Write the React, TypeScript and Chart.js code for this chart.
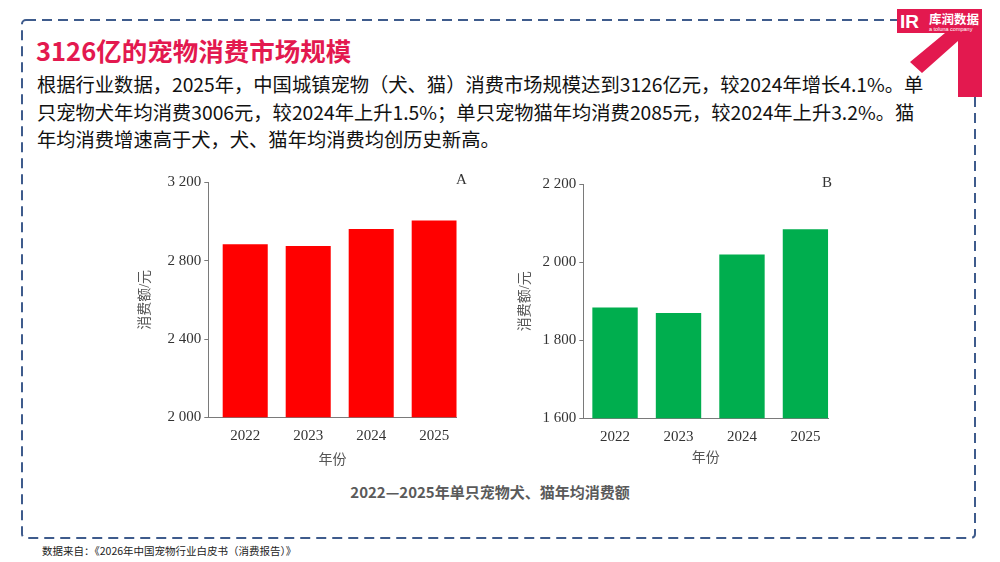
import React, { useEffect, useRef } from "react";
import { Chart, registerables } from "chart.js";

Chart.register(...registerables);

// ---- data ----
const years = [2022, 2023, 2024, 2025];
const dogSpend = [2884, 2875, 2962, 3006];
const catSpend = [1884, 1870, 2020, 2085];
const dogTicks = [2000, 2400, 2800, 3200];
const dogTickLabels = ["2 000", "2 400", "2 800", "3 200"];
const catTicks = [1600, 1800, 2000, 2200];
const catTickLabels = ["1 600", "1 800", "2 000", "2 200"];
const xTitle = "年份";
const yTitle = "消费额/元";

const SERIF = '"Liberation Serif", "Times New Roman", "Noto Sans CJK SC", serif';
const AXIS = "#7a7a7a";

type PanelProps = {
  values: number[];
  ticks: number[];
  tickLabels: string[];
  color: string;
  xMin: number;
  xMax: number;
  left: number;
  top: number;
  yAxisWidth: number;
  xAxisHeight: number;
  padRight: number;
  padTop: number;
  yTitlePad: number;
  xTitlePad: number;
};

function Panel(p: PanelProps) {
  const ref = useRef<HTMLCanvasElement | null>(null);
  useEffect(() => {
    if (!ref.current) return;
    const chart = new Chart(ref.current, {
      type: "bar",
      data: {
        datasets: [
          {
            data: years.map((yr, i) => ({ x: yr, y: p.values[i] })),
            backgroundColor: p.color,
            borderWidth: 0,
            barPercentage: 0.715,
            categoryPercentage: 1,
          },
        ],
      },
      options: {
        responsive: false,
        animation: false,
        layout: { padding: { left: 0, right: p.padRight, top: p.padTop, bottom: 0 } },
        plugins: { legend: { display: false }, tooltip: { enabled: false } },
        scales: {
          x: {
            type: "linear",
            min: p.xMin,
            max: p.xMax,
            offset: false,
            afterBuildTicks: (ax: any) => {
              ax.ticks = years.map((v) => ({ value: v }));
            },
            afterFit: (s: any) => {
              s.height = p.xAxisHeight;
            },
            grid: { display: false, drawTicks: false },
            border: { display: true, color: AXIS, width: 1 },
            ticks: {
              padding: 10,
              maxRotation: 0,
              autoSkip: false,
              color: "#333",
              font: { family: SERIF, size: 15 },
              callback: (v: any) => String(v),
            },
            title: {
              display: true,
              text: xTitle,
              color: "#555",
              font: { family: SERIF, size: 14 },
              padding: { top: 0, bottom: p.xTitlePad },
            },
          },
          y: {
            min: p.ticks[0],
            max: p.ticks[p.ticks.length - 1],
            afterBuildTicks: (ax: any) => {
              ax.ticks = p.ticks.map((v) => ({ value: v }));
            },
            afterFit: (s: any) => {
              s.width = p.yAxisWidth;
            },
            grid: { drawOnChartArea: false, drawTicks: true, tickLength: 4, color: AXIS },
            border: { display: true, color: AXIS, width: 1 },
            ticks: {
              padding: 3,
              color: "#333",
              font: { family: SERIF, size: 15 },
              callback: (v: any) => {
                const i = p.ticks.indexOf(Number(v));
                return i >= 0 ? p.tickLabels[i] : "";
              },
            },
            title: {
              display: true,
              text: yTitle,
              color: "#555",
              font: { family: SERIF, size: 14 },
              padding: { top: p.yTitlePad, bottom: 0 },
            },
          },
        },
      },
    } as any);
    return () => chart.destroy();
  }, []);
  return (
    <canvas
      ref={ref}
      width={350}
      height={320}
      style={{ position: "absolute", left: p.left, top: p.top, width: 350, height: 320 }}
    />
  );
}

export default function App() {
  useEffect(() => {
    document.body.style.margin = "0";
  }, []);
  const crimson = "#e3194f";
  return (
    <div
      style={{
        position: "relative",
        width: 1000,
        height: 562,
        overflow: "hidden",
        background: "#fff",
        fontFamily: '"Noto Sans CJK SC", "Noto Sans", sans-serif',
      }}
    >
      <svg width={1000} height={562} style={{ position: "absolute", left: 0, top: 0 }}>
        <rect
          x={22}
          y={20}
          width={953}
          height={518}
          rx={4}
          fill="none"
          stroke="#3e5b8c"
          strokeWidth={2}
          strokeDasharray="10 6"
        />
      </svg>

      <div
        style={{
          position: "absolute",
          left: 36,
          top: 35,
          fontSize: 25.5,
          lineHeight: "30px",
          fontWeight: 700,
          color: crimson,
          whiteSpace: "nowrap",
        }}
      >
        3126亿的宠物消费市场规模
      </div>

      <div
        style={{
          position: "absolute",
          left: 37,
          top: 71,
          fontSize: 19.3,
          lineHeight: "27.5px",
          color: "#111",
          whiteSpace: "nowrap",
        }}
      >
        <div>根据行业数据，2025年，中国城镇宠物（犬、猫）消费市场规模达到3126亿元，较2024年增长4.1%。单</div>
        <div>只宠物犬年均消费3006元，较2024年上升1.5%；单只宠物猫年均消费2085元，较2024年上升3.2%。猫</div>
        <div>年均消费增速高于犬，犬、猫年均消费均创历史新高。</div>
      </div>

      <Panel
        values={dogSpend}
        ticks={dogTicks}
        tickLabels={dogTickLabels}
        color="#ff0000"
        xMin={2021.414}
        xMax={2025.357}
        left={130}
        top={160}
        yAxisWidth={78.3}
        xAxisHeight={62.7}
        padRight={23.3}
        padTop={22.5}
        yTitlePad={6.6}
        xTitlePad={11.6}
      />
      <Panel
        values={catSpend}
        ticks={catTicks}
        tickLabels={catTickLabels}
        color="#00ae4e"
        xMin={2021.5}
        xMax={2025.36}
        left={500}
        top={160}
        yAxisWidth={83.3}
        xAxisHeight={61.7}
        padRight={21.7}
        padTop={24.3}
        yTitlePad={16.6}
        xTitlePad={13.6}
      />

      <div
        style={{
          position: "absolute",
          left: 456,
          top: 171,
          fontFamily: SERIF,
          fontSize: 15,
          color: "#333",
        }}
      >
        A
      </div>
      <div
        style={{
          position: "absolute",
          left: 822,
          top: 174,
          fontFamily: SERIF,
          fontSize: 15,
          color: "#333",
        }}
      >
        B
      </div>

      <div
        style={{
          position: "absolute",
          left: 0,
          width: 980,
          top: 482,
          textAlign: "center",
          fontSize: 15,
          lineHeight: "20px",
          fontWeight: 700,
          color: "#5a5a5a",
        }}
      >
        2022—2025年单只宠物犬、猫年均消费额
      </div>

      <div
        style={{
          position: "absolute",
          left: 42,
          top: 544,
          fontSize: 10.5,
          lineHeight: "14px",
          color: "#222",
          whiteSpace: "nowrap",
        }}
      >
        数据来自：《2026年中国宠物行业白皮书（消费报告）》
      </div>

      <svg width={1000} height={562} style={{ position: "absolute", left: 0, top: 0 }}>
        <rect x={897} y={9} width={85} height={24} fill={crimson} />
        <polygon
          points="945,33 982,33 982,97 958,97 958,41 922,73 910,62"
          fill={crimson}
        />
        <text x={900} y={28} fill="#fff" fontSize={19} fontWeight={700} fontFamily="Liberation Sans, sans-serif">
          IR
        </text>
        <text
          x={929}
          y={24}
          fill="#fff"
          fontSize={12.5}
          fontWeight={700}
          fontFamily='"Noto Sans CJK SC", sans-serif'
        >
          库润数据
        </text>
        <text x={929} y={31} fill="#fff" fontSize={5.5} fontFamily="Liberation Sans, sans-serif">
          a toluna company
        </text>
      </svg>
    </div>
  );
}
